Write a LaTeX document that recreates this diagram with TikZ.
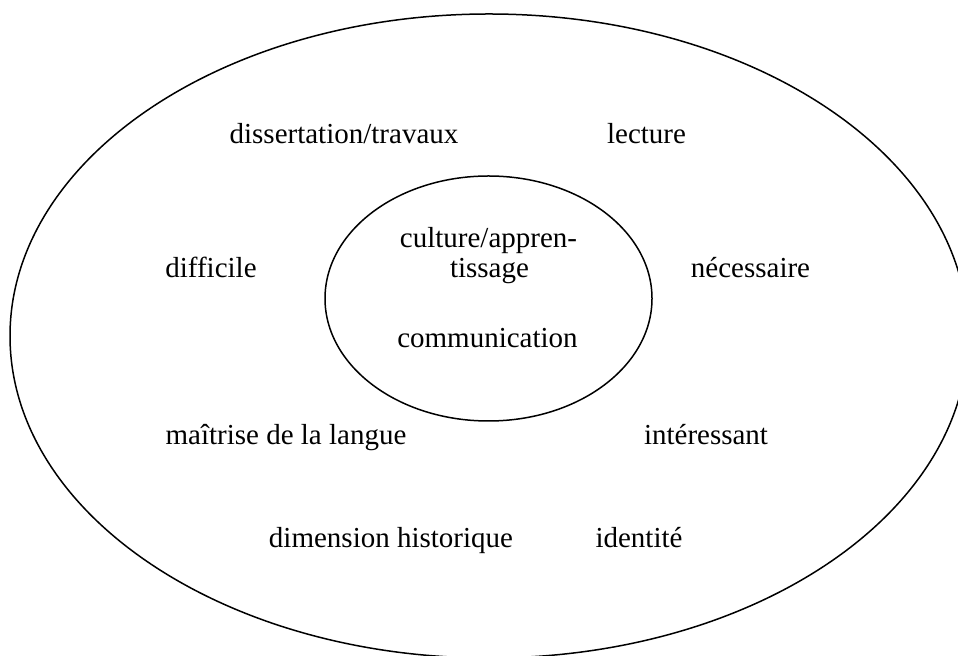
\documentclass[tikz,border=0pt]{standalone}
\usepackage{fontspec}
\setmainfont{Liberation Serif}
\usetikzlibrary{shapes.geometric}
\begin{document}
\begin{tikzpicture}[x=0.5pt,y=-0.5pt,
  ring/.style={draw,ellipse,line width=0.75pt,inner sep=0pt},
  word/.style={anchor=base,inner sep=0pt,font=\fontsize{14.5}{15}\selectfont}]
  \useasboundingbox (0,0) rectangle (958,656);
  \clip (0,0) rectangle (958,656);
  % outer and inner rings
  \node[ring,minimum width=479pt,minimum height=322pt] (outer) at (489,336) {};
  \node[ring,minimum width=163.5pt,minimum height=122.5pt] (inner) at (488.5,298.5) {};
  % words inside the inner ring
  \node[word] (cult)  at (488.5,248) {culture/appren-};
  \node[word] (tiss)  at (489.5,278) {tissage};
  \node[word] (comm)  at (487.5,348) {communication};
  % words in the outer ring
  \node[word] (diss)  at (344,144) {dissertation/travaux};
  \node[word] (lect)  at (646.5,144) {lecture};
  \node[word] (diff)  at (211,278) {difficile};
  \node[word] (nece)  at (750.5,278) {nécessaire};
  \node[word] (mait)  at (286,445) {maîtrise de la langue};
  \node[word] (inte)  at (706,445) {intéressant};
  \node[word] (dime)  at (391,548) {dimension historique};
  \node[word] (iden)  at (639,548) {identité};
\end{tikzpicture}
\end{document}
